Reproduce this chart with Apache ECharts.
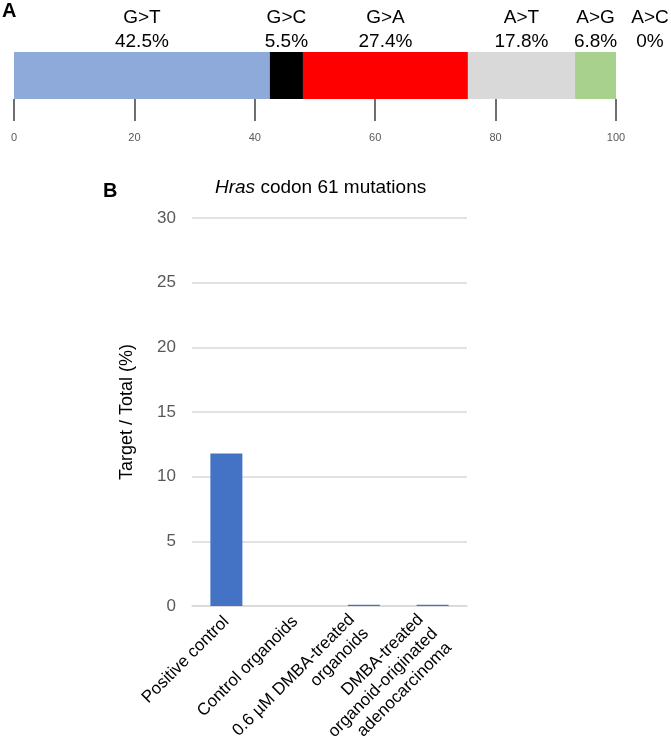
<!DOCTYPE html>
<html>
<head>
<meta charset="utf-8">
<script src="https://cdn.jsdelivr.net/npm/echarts@6/dist/echarts.min.js"></script>
<style>
  html, body { margin: 0; padding: 0; background: #fff; }
  #chart { width: 671px; height: 748px; }
</style>
</head>
<body>
<div id="chart"></div>
<script>
// panel A: share of each substitution type (%)
const mutTypes = ['G>T', 'G>C', 'G>A', 'A>T', 'A>G', 'A>C'];
const mutShares = [42.5, 5.5, 27.4, 17.8, 6.8, 0];
const mutColors = ['#8eaadb', '#000000', '#ff0000', '#d9d9d9', '#a9d18e', '#ffc000'];

// panel B: Hras codon 61 mutations
const groups = [
    'Positive control',
    'Control organoids',
    '0.6 µM DMBA-treated\norganoids',
    'DMBA-treated\norganoid-originated\nadenocarcinoma'
];
const targetPct = [11.8, 0, 0.1, 0.1];

const font = '"Liberation Sans", Arial, sans-serif';
const chart = echarts.init(document.getElementById('chart'));

let stackSeries = mutTypes.map(function (name, i) {
    return {
        name: name,
        type: 'bar',
        stack: 'all',
        xAxisIndex: 0,
        yAxisIndex: 0,
        barWidth: '100%',
        itemStyle: { color: mutColors[i] },
        label: {
            show: true,
            position: 'top',
            distance: -2,
            offset: mutShares[i] === 0 ? [34, 0] : [0, 0],
            formatter: function (p) { return p.seriesName + '\n' + p.value + '%'; },
            fontFamily: font,
            fontSize: 19,
            lineHeight: 24,
            color: '#000'
        },
        data: [mutShares[i]]
    };
});

// wrapped labels hang from their first line, a bit up and back from the tick
// (blank lines above/below move the block centre, padding pushes it back)
function wrapLabel(text) {
    let lines = text.split('\n');
    if (lines.length === 1) return text;
    let blank = '{m| }';
    let out = [];
    for (let k = 0; k < lines.length - 1; k++) out.push(blank);
    lines.forEach(function (l) { out.push('{m|' + l + '}'); });
    out.push(blank);
    return out.join('\n');
}

chart.setOption({
    animation: false,
    graphic: [
        { type: 'text', left: 2, top: 1, style: { text: 'A', font: 'bold 20px ' + font, fill: '#000' } },
        { type: 'text', left: 103, top: 181, style: { text: 'B', font: 'bold 20px ' + font, fill: '#000' } },
        {
            type: 'text', left: 215, top: 178,
            style: {
                text: '{i|Hras} codon 61 mutations',
                rich: { i: { fontStyle: 'italic', fontSize: 19, fontFamily: font } },
                fontSize: 19, fontFamily: font, fill: '#000'
            }
        }
    ],
    grid: [
        { left: 14, right: 55, top: 52, height: 47, outerBoundsMode: 'none', containLabel: false },
        { left: 192, right: 204, top: 218, bottom: 142, outerBoundsMode: 'none', containLabel: false }
    ],
    xAxis: [
        {
            type: 'value', gridIndex: 0, min: 0, max: 100, interval: 20,
            axisLine: { show: false },
            axisTick: { show: true, length: 22, lineStyle: { color: '#404040', width: 1.5 } },
            splitLine: { show: false },
            axisLabel: { margin: 33, fontSize: 11, color: '#595959', fontFamily: font }
        },
        {
            type: 'category', gridIndex: 1, data: groups,
            axisLine: { lineStyle: { color: '#d9d9d9', width: 1.5 } },
            axisTick: { show: false },
            axisLabel: {
                interval: 0, rotate: 45, margin: 13, fontSize: 17, lineHeight: 20,
                color: '#000', fontFamily: font, formatter: wrapLabel,
                rich: {
                    m: { fontSize: 17, lineHeight: 20, fontFamily: font, color: '#000', padding: [0, 7, 0, 0] }
                }
            }
        }
    ],
    yAxis: [
        { type: 'category', gridIndex: 0, data: ['all'], show: false },
        {
            type: 'value', gridIndex: 1, min: 0, max: 30, interval: 5,
            name: 'Target / Total (%)', nameLocation: 'middle', nameGap: 56,
            nameTextStyle: { fontSize: 18, color: '#000', fontFamily: font },
            axisLine: { show: false },
            axisTick: { show: false },
            splitLine: { lineStyle: { color: '#d9d9d9', width: 1.5 } },
            axisLabel: { margin: 16, fontSize: 17, color: '#595959', fontFamily: font }
        }
    ],
    series: stackSeries.concat([{
        type: 'bar',
        xAxisIndex: 1,
        yAxisIndex: 1,
        barWidth: 32,
        itemStyle: { color: '#4472c4' },
        data: targetPct
    }])
});
</script>
</body>
</html>
